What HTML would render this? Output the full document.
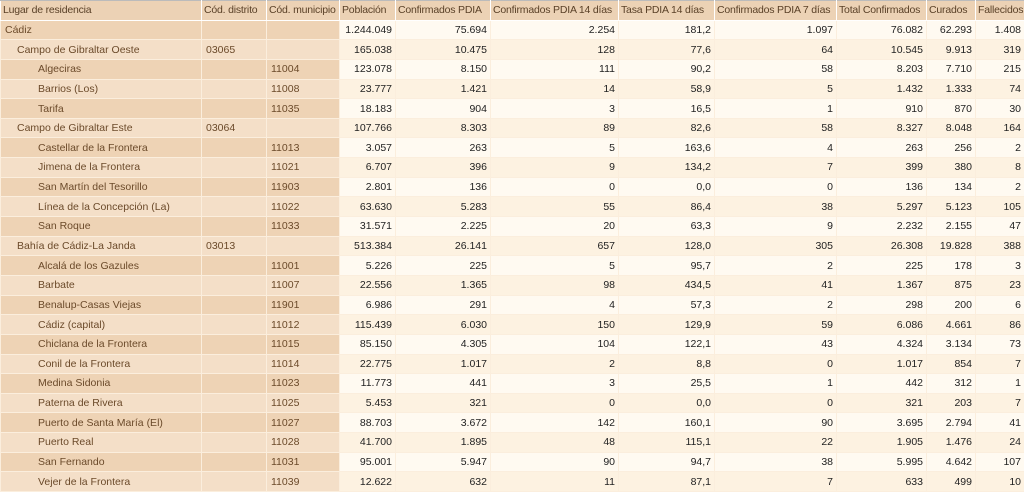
<!DOCTYPE html><html><head><meta charset="utf-8"><style>
body{margin:0;width:1024px;height:489px;overflow:hidden;background:#fff;font-family:"Liberation Sans",Tahoma,sans-serif;font-size:10.5px}
table{border-collapse:collapse;table-layout:fixed;width:1024px}
td,th{height:18.65px;padding:0 2px;white-space:nowrap;overflow:hidden;border:1px solid #fff;font-weight:normal}
th{background:#ecd2b5;color:#5a4128;text-align:left;border-top:1px solid #bbb;letter-spacing:-0.2px}
td{text-align:right;color:#222;border-color:#fbeedd;padding-right:3px}
td.h{text-align:left;color:#6b4a2a;background:#eed3b5}
tr.a td{background:#fffaf1}
tr.b td{background:#fdf2e1}
tr.a td.h{background:#eed3b5}
tr.b td.h{background:#f4dfc8}
td.h{padding-left:4px}
td.l1{padding-left:16px}td.l2{padding-left:37px}
</style></head><body><table>
<colgroup><col style="width:201px"><col style="width:65px"><col style="width:73px"><col style="width:56px"><col style="width:95px"><col style="width:128px"><col style="width:96px"><col style="width:122px"><col style="width:90px"><col style="width:49px"><col style="width:49px"></colgroup>
<tr><th>Lugar de residencia</th><th>Cód. distrito</th><th>Cód. municipio</th><th>Población</th><th>Confirmados PDIA</th><th>Confirmados PDIA 14 días</th><th>Tasa PDIA 14 días</th><th>Confirmados PDIA 7 días</th><th>Total Confirmados</th><th>Curados</th><th>Fallecidos</th></tr>
<tr class="a"><td class="h">Cádiz</td><td class="h"></td><td class="h"></td><td>1.244.049</td><td>75.694</td><td>2.254</td><td>181,2</td><td>1.097</td><td>76.082</td><td>62.293</td><td>1.408</td></tr>
<tr class="b"><td class="h l1">Campo de Gibraltar Oeste</td><td class="h">03065</td><td class="h"></td><td>165.038</td><td>10.475</td><td>128</td><td>77,6</td><td>64</td><td>10.545</td><td>9.913</td><td>319</td></tr>
<tr class="a"><td class="h l2">Algeciras</td><td class="h"></td><td class="h">11004</td><td>123.078</td><td>8.150</td><td>111</td><td>90,2</td><td>58</td><td>8.203</td><td>7.710</td><td>215</td></tr>
<tr class="b"><td class="h l2">Barrios (Los)</td><td class="h"></td><td class="h">11008</td><td>23.777</td><td>1.421</td><td>14</td><td>58,9</td><td>5</td><td>1.432</td><td>1.333</td><td>74</td></tr>
<tr class="a"><td class="h l2">Tarifa</td><td class="h"></td><td class="h">11035</td><td>18.183</td><td>904</td><td>3</td><td>16,5</td><td>1</td><td>910</td><td>870</td><td>30</td></tr>
<tr class="b"><td class="h l1">Campo de Gibraltar Este</td><td class="h">03064</td><td class="h"></td><td>107.766</td><td>8.303</td><td>89</td><td>82,6</td><td>58</td><td>8.327</td><td>8.048</td><td>164</td></tr>
<tr class="a"><td class="h l2">Castellar de la Frontera</td><td class="h"></td><td class="h">11013</td><td>3.057</td><td>263</td><td>5</td><td>163,6</td><td>4</td><td>263</td><td>256</td><td>2</td></tr>
<tr class="b"><td class="h l2">Jimena de la Frontera</td><td class="h"></td><td class="h">11021</td><td>6.707</td><td>396</td><td>9</td><td>134,2</td><td>7</td><td>399</td><td>380</td><td>8</td></tr>
<tr class="a"><td class="h l2">San Martín del Tesorillo</td><td class="h"></td><td class="h">11903</td><td>2.801</td><td>136</td><td>0</td><td>0,0</td><td>0</td><td>136</td><td>134</td><td>2</td></tr>
<tr class="b"><td class="h l2">Línea de la Concepción (La)</td><td class="h"></td><td class="h">11022</td><td>63.630</td><td>5.283</td><td>55</td><td>86,4</td><td>38</td><td>5.297</td><td>5.123</td><td>105</td></tr>
<tr class="a"><td class="h l2">San Roque</td><td class="h"></td><td class="h">11033</td><td>31.571</td><td>2.225</td><td>20</td><td>63,3</td><td>9</td><td>2.232</td><td>2.155</td><td>47</td></tr>
<tr class="b"><td class="h l1">Bahía de Cádiz-La Janda</td><td class="h">03013</td><td class="h"></td><td>513.384</td><td>26.141</td><td>657</td><td>128,0</td><td>305</td><td>26.308</td><td>19.828</td><td>388</td></tr>
<tr class="a"><td class="h l2">Alcalá de los Gazules</td><td class="h"></td><td class="h">11001</td><td>5.226</td><td>225</td><td>5</td><td>95,7</td><td>2</td><td>225</td><td>178</td><td>3</td></tr>
<tr class="b"><td class="h l2">Barbate</td><td class="h"></td><td class="h">11007</td><td>22.556</td><td>1.365</td><td>98</td><td>434,5</td><td>41</td><td>1.367</td><td>875</td><td>23</td></tr>
<tr class="a"><td class="h l2">Benalup-Casas Viejas</td><td class="h"></td><td class="h">11901</td><td>6.986</td><td>291</td><td>4</td><td>57,3</td><td>2</td><td>298</td><td>200</td><td>6</td></tr>
<tr class="b"><td class="h l2">Cádiz (capital)</td><td class="h"></td><td class="h">11012</td><td>115.439</td><td>6.030</td><td>150</td><td>129,9</td><td>59</td><td>6.086</td><td>4.661</td><td>86</td></tr>
<tr class="a"><td class="h l2">Chiclana de la Frontera</td><td class="h"></td><td class="h">11015</td><td>85.150</td><td>4.305</td><td>104</td><td>122,1</td><td>43</td><td>4.324</td><td>3.134</td><td>73</td></tr>
<tr class="b"><td class="h l2">Conil de la Frontera</td><td class="h"></td><td class="h">11014</td><td>22.775</td><td>1.017</td><td>2</td><td>8,8</td><td>0</td><td>1.017</td><td>854</td><td>7</td></tr>
<tr class="a"><td class="h l2">Medina Sidonia</td><td class="h"></td><td class="h">11023</td><td>11.773</td><td>441</td><td>3</td><td>25,5</td><td>1</td><td>442</td><td>312</td><td>1</td></tr>
<tr class="b"><td class="h l2">Paterna de Rivera</td><td class="h"></td><td class="h">11025</td><td>5.453</td><td>321</td><td>0</td><td>0,0</td><td>0</td><td>321</td><td>203</td><td>7</td></tr>
<tr class="a"><td class="h l2">Puerto de Santa María (El)</td><td class="h"></td><td class="h">11027</td><td>88.703</td><td>3.672</td><td>142</td><td>160,1</td><td>90</td><td>3.695</td><td>2.794</td><td>41</td></tr>
<tr class="b"><td class="h l2">Puerto Real</td><td class="h"></td><td class="h">11028</td><td>41.700</td><td>1.895</td><td>48</td><td>115,1</td><td>22</td><td>1.905</td><td>1.476</td><td>24</td></tr>
<tr class="a"><td class="h l2">San Fernando</td><td class="h"></td><td class="h">11031</td><td>95.001</td><td>5.947</td><td>90</td><td>94,7</td><td>38</td><td>5.995</td><td>4.642</td><td>107</td></tr>
<tr class="b"><td class="h l2">Vejer de la Frontera</td><td class="h"></td><td class="h">11039</td><td>12.622</td><td>632</td><td>11</td><td>87,1</td><td>7</td><td>633</td><td>499</td><td>10</td></tr>
</table></body></html>
